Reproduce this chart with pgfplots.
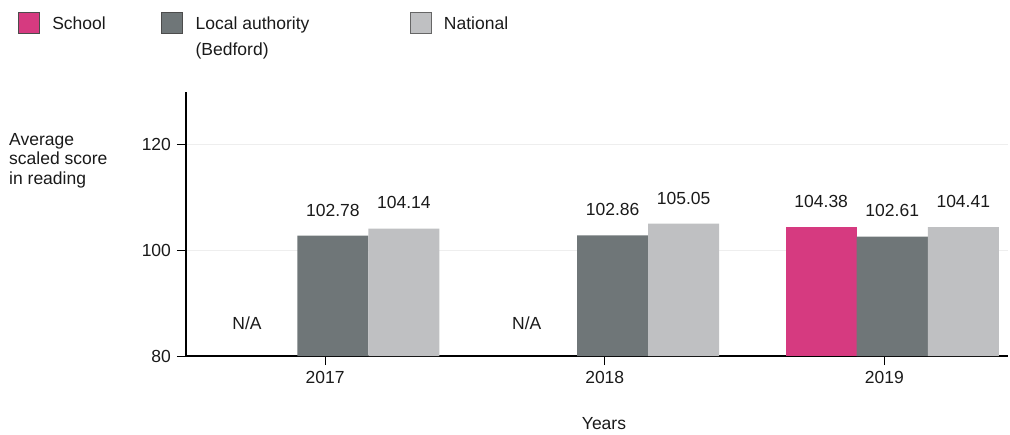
\documentclass[border=0pt]{standalone}
\usepackage{fontspec}
\setmainfont{Liberation Sans}
\usepackage{pgfplots}
\pgfplotsset{compat=1.18}
\definecolor{school}{HTML}{D63A80}
\definecolor{la}{HTML}{6F7678}
\definecolor{nat}{HTML}{BFC0C2}
\definecolor{gridc}{HTML}{EEEEEE}
\definecolor{txt}{HTML}{1A1A1A}
\begin{document}
\fontsize{17.5bp}{20bp}\selectfont
\begin{tikzpicture}[font=\fontsize{17.5bp}{20bp}\selectfont]
\path[use as bounding box] (-186bp,-79bp) rectangle (824bp,356bp);
\begin{axis}[
  at={(0,0)}, anchor=south west,
  scale only axis, width=822bp, height=264bp,
  xmin=-0.4973, xmax=2.4419, ymin=80, ymax=130,
  axis x line*=bottom, axis y line*=left,
  axis line style={black, line width=1.1bp},
  xtick={0,1,2}, xticklabels={2017,2018,2019},
  ytick={80,100,120},
  tick align=outside, major tick length=9bp,
  tick style={black, line width=1bp},
  ymajorgrids, grid style={gridc, line width=1bp},
  /pgf/number format/assume math mode=true,
  ticklabel style={color=txt},
  xlabel={Years},
  xlabel style={at={(axis description cs:0.5085,-0.2777)}, anchor=base, inner sep=0pt, color=txt},
  ylabel={Average\\scaled score\\in reading},
  ylabel style={rotate=-90, align=left, anchor=north west, inner sep=0pt, color=txt,
    at={(axis description cs:-0.2153,0.8447)}, font=\fontsize{17.5bp}{19.5bp}\selectfont},
  legend columns=3,
  legend style={at={(axis description cs:-0.2044,1.3030)}, anchor=north west,
    draw=none, fill=none, inner sep=0pt, outer sep=0pt,
    column sep=0pt, row sep=0pt,
    cells={anchor=base west, inner sep=0pt, color=txt}},
  nodes near coords={\pgfmathprintnumber[fixed,fixed zerofill,precision=2,assume math mode=true]{\pgfplotspointmeta}},
  nodes near coords style={anchor=base, yshift=19.7bp, color=txt, inner sep=0pt},
]
% x positions: year index (0 = 2017, 1 = 2018, 2 = 2019) plus each series' offset
\addplot[ybar, bar width=0.254, bar shift=0pt, fill=school, draw=none,
  legend image code/.code={\draw[fill=school, draw=black!70, line width=0.7bp] (0bp,-3.7bp) rectangle (21bp,17.3bp); \path (32bp,0bp);}]
  coordinates {(1.774,104.38)};
\addlegendentry{\makebox[107bp][l]{School}}
\addplot[ybar, bar width=0.254, bar shift=0pt, fill=la, draw=none,
  legend image code/.code={\draw[fill=la, draw=black!70, line width=0.7bp] (0bp,-3.7bp) rectangle (21bp,17.3bp); \path (32bp,0bp);}]
  coordinates {(0.028,102.78) (1.028,102.86) (2.028,102.61)};
\addlegendentry{\vtop{\baselineskip=26bp\hbox to 212bp{Local authority\hfil}\hbox{(Bedford)}}}
\addplot[ybar, bar width=0.254, bar shift=0pt, fill=nat, draw=none,
  legend image code/.code={\draw[fill=nat, draw=black!60, line width=0.7bp] (0bp,-3.7bp) rectangle (21bp,17.3bp); \path (32bp,0bp);}]
  coordinates {(0.282,104.14) (1.282,105.05) (2.282,104.41)};
\addlegendentry{National}
\node[anchor=base, inner sep=0pt, color=txt] at (axis cs:-0.279,85.06) {N/A};
\node[anchor=base, inner sep=0pt, color=txt] at (axis cs:0.721,85.06) {N/A};
\end{axis}
\end{tikzpicture}
\end{document}
